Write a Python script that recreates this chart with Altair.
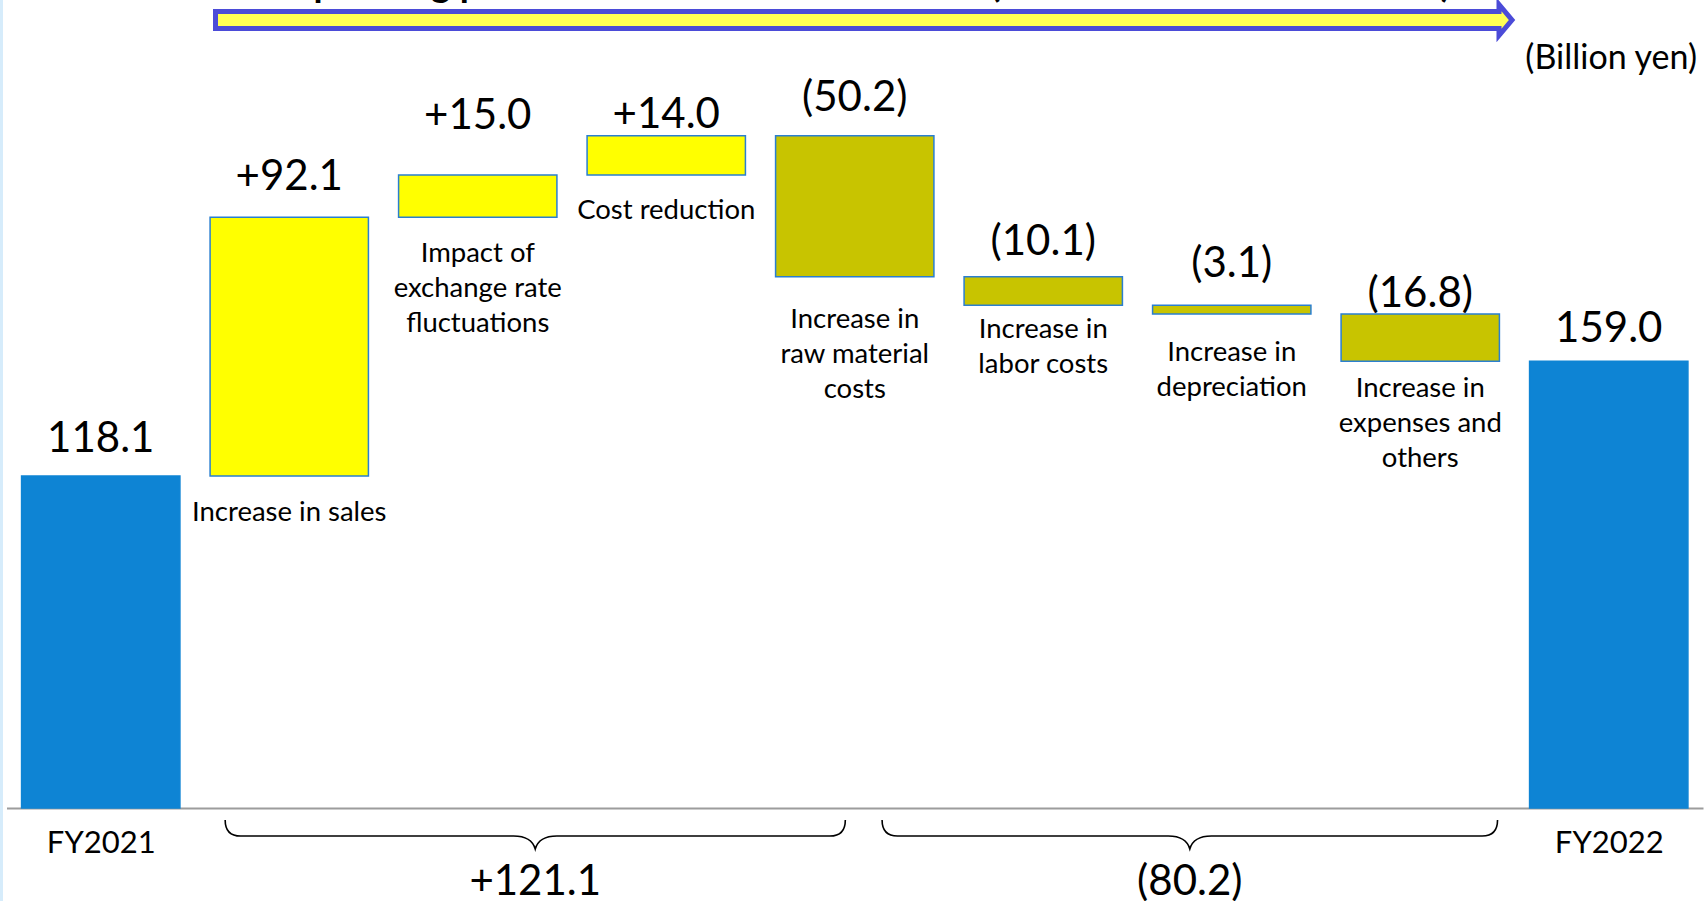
import altair as alt
import pandas as pd

# ---------------- data ----------------
steps = [
    "FY2021",
    "Increase in sales",
    "Impact of exchange rate fluctuations",
    "Cost reduction",
    "Increase in raw material costs",
    "Increase in labor costs",
    "Increase in depreciation",
    "Increase in expenses and others",
    "FY2022",
]
step_labels = [
    "",
    "Increase in sales",
    "Impact of\nexchange rate\nfluctuations",
    "Cost reduction",
    "Increase in\nraw material\ncosts",
    "Increase in\nlabor costs",
    "Increase in\ndepreciation",
    "Increase in\nexpenses and\nothers",
    "",
]
amounts = [118.1, 92.1, 15.0, 14.0, -50.2, -10.1, -3.1, -16.8, 159.0]
kinds = ["total", "up", "up", "up", "down", "down", "down", "down", "total"]

title_text = "Operating profit increase/decrease factors (FY2021 vs. FY2022 results)"
unit_text = "(Billion yen)"

# ---------------- layout ----------------
FONT = "Lato"
PAD_L, PAD_R, PAD_T, PAD_B = 6.5, 4, 0, 93
W, H = 1696.5, 808
X_MIN, X_MAX = -0.5, 8.5
STEP = W / (X_MAX - X_MIN)          # pixels per category slot
Y_MAX = 287.5
PX = H / Y_MAX                      # pixels per billion yen
BAR_HALF = 0.42

# hand-tuned label offsets in pixels
value_lift = [39, 42, 61, 23, 40, 37, 43, 22, 34]
label_drop = [0, 35, 35, 34, 41, 23, 37, 26, 0]
# bracket spans, in category-index units
brace_spans = [(0.66, 3.95), (4.145, 7.41)]


def xdata(px):
    return (px - PAD_L) / STEP + X_MIN


def ydata(px):
    return (H - px) / PX


fills = {"total": "#0E84D4", "up": "#FFFF00", "down": "#C8C400"}
strokes = {"total": "#0E84D4", "up": "#2A7FD0", "down": "#2A7FD0"}


def fmt(amount, kind):
    if kind == "total":
        return f"{amount:.1f}"
    return f"+{amount:.1f}" if amount > 0 else f"({-amount:.1f})"


# ---------------- waterfall table ----------------
rows = []
level = 0.0
for i, (name, lab, amt, kind) in enumerate(zip(steps, step_labels, amounts, kinds)):
    if kind == "total":
        lo, hi = 0.0, amt
        level = amt
    else:
        lo, hi = sorted((level, level + amt))
        level += amt
    rows.append(
        dict(
            step=name,
            label=lab,
            kind=kind,
            xc=i,
            x0=i - BAR_HALF,
            x1=i + BAR_HALF,
            lo=lo,
            hi=hi,
            text=fmt(amt, kind),
            text_y=hi + (value_lift[i] - 2) / PX,
            label_y=lo - (label_drop[i] - 12) / PX,
        )
    )
df = pd.DataFrame(rows)

# bracket totals for the positive and negative factors
up_sum = round(sum(a for a, k in zip(amounts, kinds) if k == "up"), 1)
down_sum = round(sum(a for a, k in zip(amounts, kinds) if k == "down"), 1)
brace_df = pd.DataFrame(
    {
        "x": [(a + b) / 2 for a, b in brace_spans],
        "y": [ydata(836)] * 2,
        "ty": [ydata(882)] * 2,
        "size": [((b - a) * STEP) ** 2 for a, b in brace_spans],
        "text": [fmt(up_sum, "up"), fmt(down_sum, "down")],
    }
)

# ---------------- scales & axis ----------------
XS = alt.Scale(domain=[X_MIN, X_MAX], nice=False, zero=False)
YS = alt.Scale(domain=[0, Y_MAX], nice=False, zero=False)
total_idx = [i for i, k in enumerate(kinds) if k == "total"]
label_expr = " : ".join(
    f"datum.value == {i} ? '{steps[i]}'" for i in total_idx
) + " : ''"
X_AXIS = alt.Axis(
    values=total_idx,
    labelExpr=label_expr,
    ticks=False,
    grid=False,
    domainColor="#9c9c9c",
    domainWidth=2,
    labelFont=FONT,
    labelFontSize=31,
    labelColor="black",
    labelPadding=35,
    labelBaseline="middle",
    labelFlush=False,
    labelOverlap=False,
    title=None,
)


def X(field):
    return alt.X(field, type="quantitative", scale=XS, axis=X_AXIS)


def Y(field):
    return alt.Y(field, type="quantitative", scale=YS, axis=None)


# ---------------- layers ----------------
border = alt.Chart(pd.DataFrame({"a": [0]})).mark_rule(
    color="#d6ecfb", strokeWidth=3
).encode(x=alt.value(-5), y=alt.value(-10), y2=alt.value(H + PAD_B + 10))

bars = alt.Chart(df).mark_rect(strokeWidth=1.5).encode(
    x=X("x0"),
    x2="x1:Q",
    y=Y("lo"),
    y2="hi:Q",
    fill=alt.Fill(
        "kind:N",
        scale=alt.Scale(domain=list(fills), range=list(fills.values())),
        legend=None,
    ),
    stroke=alt.Stroke(
        "kind:N",
        scale=alt.Scale(domain=list(strokes), range=list(strokes.values())),
        legend=None,
    ),
)

value_text = alt.Chart(df).mark_text(
    font=FONT, fontSize=42, baseline="middle", align="center", color="black"
).encode(x=X("xc"), y=Y("text_y"), text="text:N")

step_text = alt.Chart(df[df["label"] != ""]).mark_text(
    font=FONT, fontSize=27.5, lineHeight=35, lineBreak="\n",
    baseline="top", align="center", color="black",
).encode(x=X("xc"), y=Y("label_y"), text="label:N")

ARROW_PATH = (
    "M-1,-0.0131 L0.97995,-0.0131 L0.97995,-0.0239 L1,0 "
    "L0.97995,0.0239 L0.97995,0.0131 L-1,0.0131 Z"
)
arrow_df = pd.DataFrame(
    {"x": [xdata(863.75)], "y": [ydata(20)], "size": [1296.5 ** 2]}
)
arrow = alt.Chart(arrow_df).mark_point(
    shape=ARROW_PATH, filled=True, fill="#FFFF55", stroke="#4B4BD8",
    strokeWidth=5, opacity=1, fillOpacity=1, strokeOpacity=1,
).encode(x=X("x"), y=Y("y"), size=alt.Size("size:Q", scale=None, legend=None))

title = alt.Chart(
    pd.DataFrame({"x": [xdata(284)], "y": [ydata(-3)], "t": [title_text]})
).mark_text(
    font=FONT, fontSize=37, fontWeight="bold", align="left",
    baseline="alphabetic", color="black",
).encode(x=X("x"), y=Y("y"), text="t:N")

unit = alt.Chart(
    pd.DataFrame({"x": [xdata(1697)], "y": [ydata(59)], "t": [unit_text]})
).mark_text(
    font=FONT, fontSize=34, align="right", baseline="middle", color="black"
).encode(x=X("x"), y=Y("y"), text="t:N")

BRACE_PATH = (
    "M-1,-0.052 Q-1,0 -0.95,0 L-0.07,0 Q-0.012,0 0,0.042 "
    "Q0.012,0 0.07,0 L0.95,0 Q1,0 1,-0.052"
)
braces = alt.Chart(brace_df).mark_point(
    shape=BRACE_PATH, filled=False, stroke="black", strokeWidth=1.6, opacity=1,
).encode(x=X("x"), y=Y("y"), size=alt.Size("size:Q", scale=None, legend=None))

brace_text = alt.Chart(brace_df).mark_text(
    font=FONT, fontSize=42, baseline="middle", align="center", color="black"
).encode(x=X("x"), y=Y("ty"), text="text:N")

chart = (
    alt.layer(bars, value_text, step_text, arrow, title, unit, braces, brace_text, border)
    .properties(
        width=W,
        height=H,
        padding={"left": PAD_L, "right": PAD_R, "top": PAD_T, "bottom": PAD_B},
        autosize=alt.AutoSizeParams(type="none"),
        background="white",
    )
    .configure_view(stroke=None)
)

chart.save("out.html", embed_options={"renderer": "svg", "actions": False})
